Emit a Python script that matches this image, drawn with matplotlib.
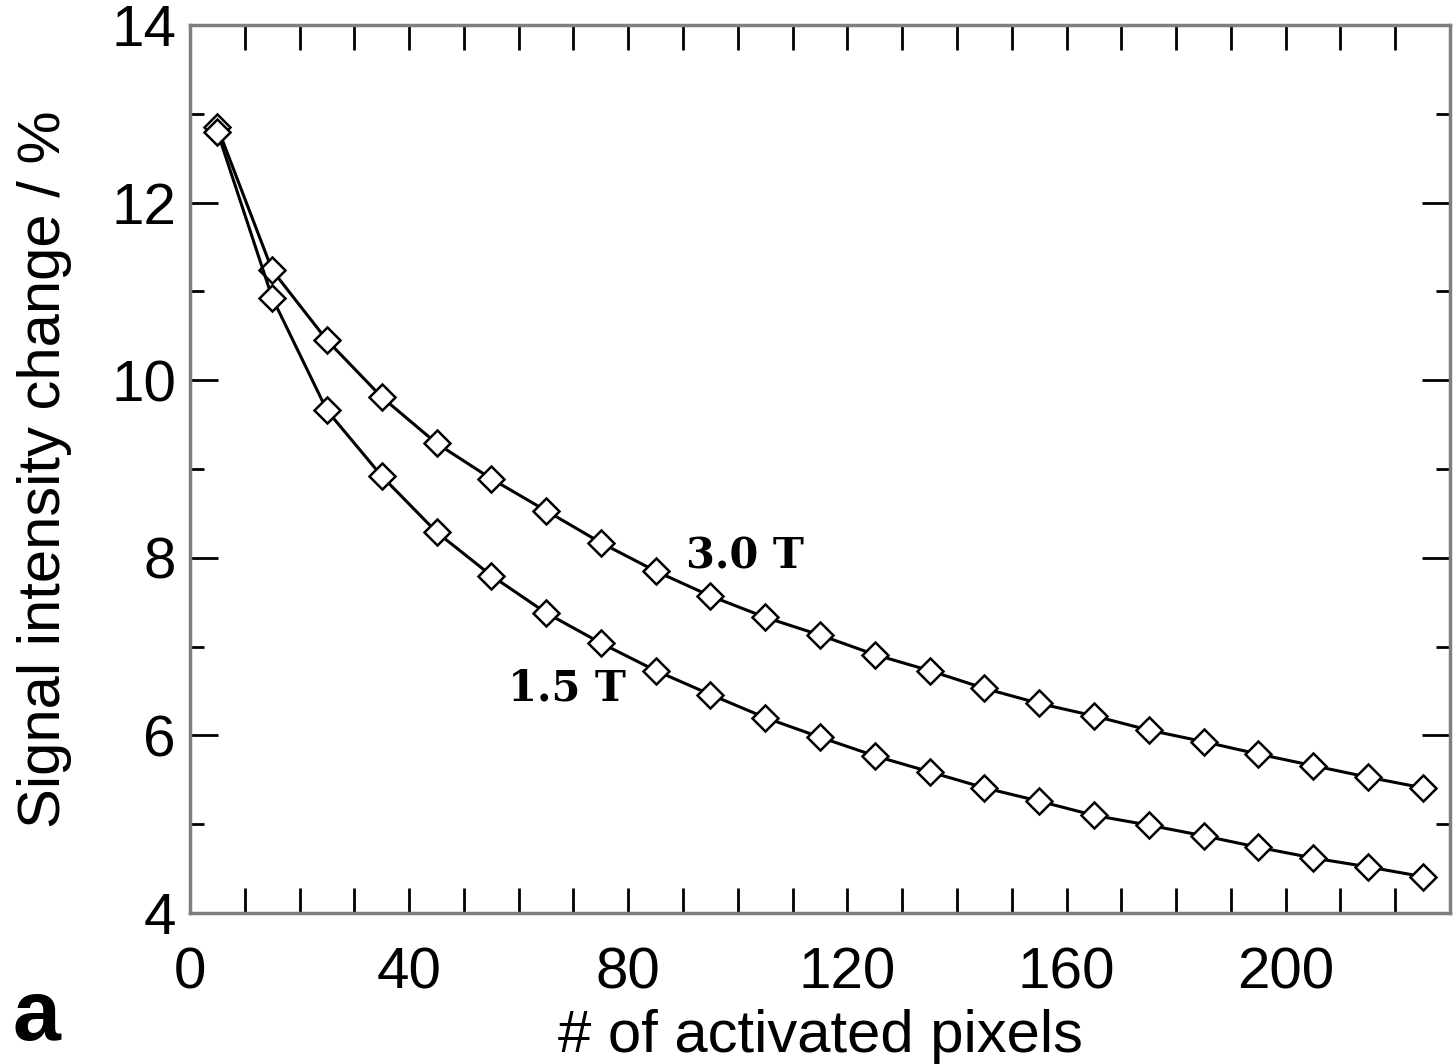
import matplotlib
matplotlib.use("Agg")
import matplotlib.pyplot as plt
from matplotlib.ticker import MultipleLocator

pixels = [5, 15, 25, 35, 45, 55, 65, 75, 85, 95, 105, 115, 125, 135, 145,
          155, 165, 175, 185, 195, 205, 215, 225]
signal_30T = [12.85, 11.24, 10.45, 9.81, 9.29, 8.89, 8.53, 8.17, 7.85, 7.57,
              7.33, 7.13, 6.91, 6.73, 6.53, 6.36, 6.22, 6.06, 5.93, 5.79,
              5.66, 5.53, 5.41]
signal_15T = [12.80, 10.93, 9.66, 8.92, 8.29, 7.80, 7.38, 7.04, 6.73, 6.46,
              6.20, 5.98, 5.77, 5.59, 5.41, 5.26, 5.10, 4.99, 4.87, 4.74,
              4.62, 4.52, 4.41]
xticks = [0, 40, 80, 120, 160, 200]
yticks = [4, 6, 8, 10, 12, 14]

plt.rcParams['font.family'] = ['Liberation Sans', 'DejaVu Sans']

fig = plt.figure(figsize=(14.56, 10.64), dpi=100)
ax = fig.add_axes([0.1305, 0.1419, 0.8654, 0.8346])

for ys in (signal_30T, signal_15T):
    ax.plot(pixels, ys, color='black', lw=2.2, marker='D', ms=13,
            mfc='white', mec='black', mew=1.8)

ax.set_xlim(0, 230)
ax.set_ylim(4, 14)
ax.set_xticks(xticks)
ax.set_yticks(yticks)
ax.xaxis.set_minor_locator(MultipleLocator(10))
ax.yaxis.set_minor_locator(MultipleLocator(1))
ax.tick_params(axis='both', which='both', direction='in', top=True, right=True,
               labelsize=42, color='black', width=2)
ax.tick_params(axis='x', which='both', length=18, pad=24)
ax.tick_params(axis='y', which='major', length=20, pad=10)
ax.tick_params(axis='y', which='minor', length=10)
for s in ax.spines.values():
    s.set_color('#7f7f7f')
    s.set_linewidth(2.5)

ax.set_xlabel('# of activated pixels', fontsize=43, labelpad=6)
ax.set_ylabel('Signal intensity change / %', fontsize=43, labelpad=28)

ax.text(101.3, 8.01, '3.0 T', fontsize=30, fontweight='bold',
        family='DejaVu Serif', ha='center', va='center')
ax.text(68.8, 6.53, '1.5 T', fontsize=30, fontweight='bold',
        family='DejaVu Serif', ha='center', va='center')

fig.text(0.025, 0.043, 'a', fontsize=62, fontweight='bold', ha='center', va='center')

fig.savefig('out.png', dpi=100)
